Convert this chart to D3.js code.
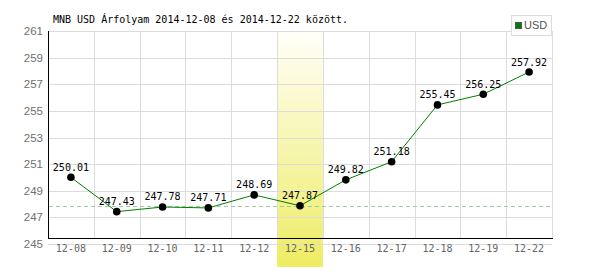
<!DOCTYPE html>
<html>
<head>
<meta charset="utf-8">
<script src="https://cdn.jsdelivr.net/npm/d3@7"></script>
<style>
  body { margin: 0; background: #fff; }
  .mono { font-family: "DejaVu Sans Mono", monospace; }
  .sans { font-family: "Liberation Sans", Arial, sans-serif; }
</style>
</head>
<body>
<div id="chart"></div>
<script>
// chart data
var dates = ["12-08","12-09","12-10","12-11","12-12","12-15","12-16","12-17","12-18","12-19","12-22"];
var rates = [250.01, 247.43, 247.78, 247.71, 248.69, 247.87, 249.82, 251.18, 255.45, 256.25, 257.92];
var yTicks = [245, 247, 249, 251, 253, 255, 257, 259, 261];
var highlightDate = "12-15";
var refValue = 247.87;
var title = "MNB USD Árfolyam 2014-12-08 és 2014-12-22 között.";
var seriesName = "USD";

var W = 600, H = 270;
var plotL = 48, plotR = 552, plotT = 31, plotB = 244, axisY = 238;

var svg = d3.select("#chart").append("svg")
    .attr("width", W)
    .attr("height", H);

var x = d3.scaleBand().domain(dates).range([plotL, plotR]);
var y = d3.scaleLinear().domain([245, 261]).range([plotB, plotT]);

// highlight band gradient
var grad = svg.append("defs").append("linearGradient")
    .attr("id", "hl").attr("x1", 0).attr("y1", 0).attr("x2", 0).attr("y2", 1);
grad.append("stop").attr("offset", "0%").attr("stop-color", "#fffffa");
grad.append("stop").attr("offset", "100%").attr("stop-color", "#eeec62");

svg.append("rect")
    .attr("x", x(highlightDate))
    .attr("y", plotT)
    .attr("width", x.bandwidth())
    .attr("height", 267 - plotT)
    .attr("fill", "url(#hl)");

// horizontal grid
svg.append("g").selectAll("line")
    .data(yTicks)
    .enter().append("line")
    .attr("x1", plotL).attr("x2", plotR)
    .attr("y1", function(d) { return Math.round(y(d)) + 0.5; })
    .attr("y2", function(d) { return Math.round(y(d)) + 0.5; })
    .attr("stroke", "#dcdcdc");

// vertical grid
svg.append("g").selectAll("line")
    .data(dates.slice(1).concat(["end"]))
    .enter().append("line")
    .attr("x1", function(d, i) { return Math.round(plotL + x.step() * (i + 1)) + 0.5; })
    .attr("x2", function(d, i) { return Math.round(plotL + x.step() * (i + 1)) + 0.5; })
    .attr("y1", plotT).attr("y2", axisY)
    .attr("stroke", "#dcdcdc");

// y labels
svg.append("g").selectAll("text")
    .data(yTicks)
    .enter().append("text")
    .attr("class", "sans")
    .attr("x", 43)
    .attr("y", function(d) { return y(d); })
    .attr("dy", "0.35em")
    .attr("text-anchor", "end")
    .attr("font-size", 11.5)
    .attr("fill", "#707070")
    .text(function(d) { return d; });

// axes lines
svg.append("line")
    .attr("x1", plotL + 0.5).attr("x2", plotL + 0.5)
    .attr("y1", plotT).attr("y2", axisY + 1)
    .attr("stroke", "#000");
svg.append("line")
    .attr("x1", plotL).attr("x2", plotR + 1)
    .attr("y1", axisY + 0.5).attr("y2", axisY + 0.5)
    .attr("stroke", "#000");

// x labels
svg.append("g").selectAll("text")
    .data(dates)
    .enter().append("text")
    .attr("class", "mono")
    .attr("x", function(d) { return x(d) + x.bandwidth() / 2; })
    .attr("y", 248)
    .attr("dy", "0.35em")
    .attr("text-anchor", "middle")
    .attr("font-size", 10)
    .attr("fill", "#666")
    .text(function(d) { return d; });

// reference dashed line
svg.append("line")
    .attr("x1", plotL + 1).attr("x2", plotR)
    .attr("y1", Math.round(y(refValue)) + 0.5).attr("y2", Math.round(y(refValue)) + 0.5)
    .attr("stroke", "#a3cba3")
    .attr("stroke-dasharray", "4,3");

// series line
var line = d3.line()
    .x(function(d, i) { return x(dates[i]) + x.bandwidth() / 2; })
    .y(function(d) { return y(d); });

svg.append("path")
    .datum(rates)
    .attr("d", line)
    .attr("fill", "none")
    .attr("stroke", "#008000")
    .attr("stroke-width", 1);

svg.append("g").selectAll("circle")
    .data(rates)
    .enter().append("circle")
    .attr("cx", function(d, i) { return x(dates[i]) + x.bandwidth() / 2; })
    .attr("cy", function(d) { return y(d); })
    .attr("r", 3.8)
    .attr("fill", "#000");

// value labels
svg.append("g").selectAll("text")
    .data(rates)
    .enter().append("text")
    .attr("class", "mono")
    .attr("x", function(d, i) { return x(dates[i]) + x.bandwidth() / 2; })
    .attr("y", function(d) { return y(d) - 10; })
    .attr("dy", "0.35em")
    .attr("text-anchor", "middle")
    .attr("font-size", 10)
    .attr("fill", "#000")
    .text(function(d) { return d.toFixed(2); });

// title
svg.append("text")
    .attr("class", "mono")
    .attr("x", 53)
    .attr("y", 19)
    .attr("dy", "0.35em")
    .attr("font-size", 10)
    .attr("fill", "#000")
    .text(title);

// legend
var lg = svg.append("g");
lg.append("rect")
    .attr("x", 511.5).attr("y", 15.5)
    .attr("width", 40).attr("height", 20)
    .attr("fill", "#fff")
    .attr("stroke", "#dcdcdc");
lg.append("rect")
    .attr("x", 515.5).attr("y", 22.5)
    .attr("width", 6).attr("height", 6)
    .attr("fill", "#008000")
    .attr("stroke", "#555");
lg.append("text")
    .attr("class", "sans")
    .attr("x", 524)
    .attr("y", 25.5)
    .attr("dy", "0.35em")
    .attr("font-size", 11)
    .attr("fill", "#555")
    .text(seriesName);
</script>
</body>
</html>
